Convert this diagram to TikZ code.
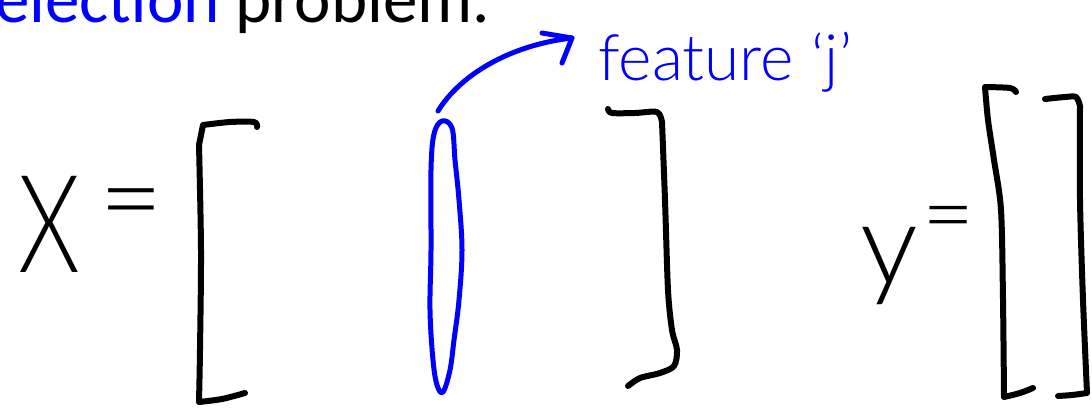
\documentclass[tikz,border=0pt]{standalone}
\usepackage{fontspec}
\setmainfont{Carlito}
\newfontfamily\hand{Lato Light}
\definecolor{inkblue}{RGB}{0,0,255}
\begin{document}
\begin{tikzpicture}[x=1pt,y=-1pt,
  ink/.style={line width=6pt,line cap=round,line join=round},
  blueink/.style={ink,draw=inkblue,line width=5pt},
  handtxt/.style={inner sep=0pt,font=\hand}]
\useasboundingbox (0,0) rectangle (1092,410);
% title (cut at top, as in the reference)
\node[anchor=base west,inner sep=0pt,font=\fontsize{69}{72}\selectfont] (title) at (-32,22) {\textcolor{inkblue}{selection} problem.};
% X =
\node[handtxt,font=\hand\fontsize{136}{136}\selectfont,xscale=0.73,anchor=base] (X) at (49,272) {X};
\node[handtxt,font=\hand\fontsize{110}{110}\selectfont] (eq1) at (131,213) {=};
% left bracket of X matrix
\draw[ink] plot[smooth,tension=0.5] coordinates {(257,127) (254,122) (230,122) (203,125)}
  -- (199,145) plot[smooth,tension=0.5] coordinates {(199,145) (201,250) (200,350) (199,402)}
  plot[smooth,tension=0.5] coordinates {(199,402) (222,399) (245,393)};
% right bracket of X matrix
\draw[ink] plot[smooth,tension=0.5] coordinates {(608,109) (612,113) (635,113) (657,112) (662,122)}
  plot[smooth,tension=0.5] coordinates {(662,122) (665,200) (668,290) (672,330) (677,350) (674,366) (660,373) (640,378) (628,386)};
% feature column (ellipse)
\draw[blueink] plot[smooth cycle,tension=0.6] coordinates {(442,121) (452,128) (455,160) (459,200) (462,250) (459,300) (454,340) (450,370) (443,392) (437,385) (433,360) (430,310) (431,250) (431,170) (434,134)};
% arrow to label
\coordinate (etop) at (438,111);
\coordinate (tip) at (572,38);
\node[handtxt,font=\hand\fontsize{64}{64}\selectfont,text=inkblue,anchor=base west] (feat) at (598,80) {feature ‘j’};
\draw[blueink] (etop) .. controls (460,75) and (510,45) .. (tip);
\draw[blueink] ([shift={(-30,-5)}]tip) -- (tip) -- ([shift={(-10,25)}]tip);
% y =
\node[handtxt,font=\hand\fontsize{115}{115}\selectfont,anchor=base] (y) at (889,284) {y};
\node[handtxt,font=\hand\fontsize{90}{90}\selectfont] (eq2) at (949,226) {=};
% y vector brackets
\draw[ink] plot[smooth,tension=0.5] coordinates {(1016,92) (1010,88) (985,87)}
  plot[smooth,tension=0.5] coordinates {(985,87) (988,120) (994,160) (1001,210) (1003,300) (1004,397)}
  plot[smooth,tension=0.5] coordinates {(1004,397) (1020,393) (1033,388)};
\draw[ink] plot[smooth,tension=0.5] coordinates {(1045,99) (1065,97) (1076,97) (1080,106)}
  plot[smooth,tension=0.5] coordinates {(1080,106) (1080,200) (1083,300) (1087,393)}
  plot[smooth,tension=0.5] coordinates {(1087,393) (1072,395) (1058,396)};
\end{tikzpicture}
\end{document}
